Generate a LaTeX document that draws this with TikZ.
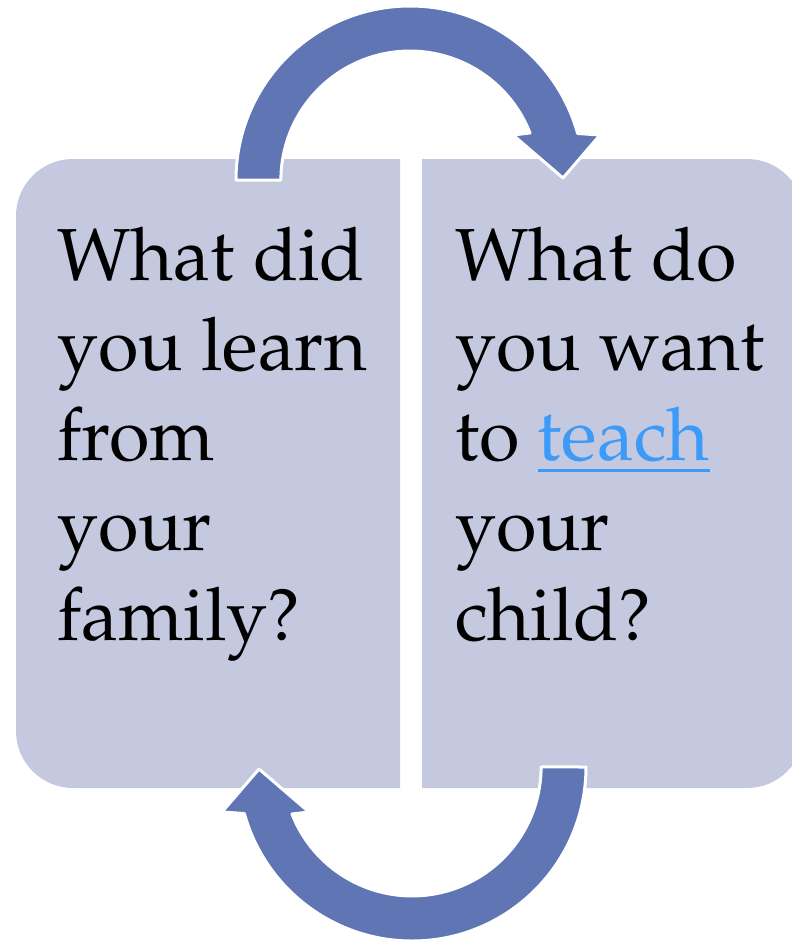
\documentclass[tikz,border=0pt]{standalone}
\usepackage[T1]{fontenc}
\usepackage{mathpazo}
\usepackage{xcolor}
\definecolor{boxfill}{HTML}{C5C9DF}
\definecolor{arrowblue}{HTML}{6076B4}
\definecolor{linkblue}{HTML}{3C9BF8}
\newcommand{\hyperword}[1]{{\color{linkblue}\setbox0\hbox{#1}\rlap{\rule[-11.5bp]{\wd0}{3bp}}\box0}}
\tikzset{
  panel/.style={fill=boxfill},
  turn/.style={fill=arrowblue, draw=white, line width=3bp, line join=round},
  question/.style={align=left, anchor=base west, inner sep=0pt, font=\fontsize{74}{90.3}\selectfont},
}

\begin{document}
\begin{tikzpicture}[x=1bp, y=-1bp]
	\useasboundingbox (0,0) rectangle (792,941);
	\clip (0,0) rectangle (792,941);
	% the two panels
	\fill[panel] (400,159) -- (73,159) arc[start angle=270, end angle=180, radius=57] -- (16,731) arc[start angle=180, end angle=90, radius=57] -- (400,788) -- cycle;
	\fill[panel] (422,159) -- (747,159) arc[start angle=270, end angle=360, radius=57] -- (804,731) arc[start angle=0, end angle=90, radius=57] -- (422,788) -- cycle;
	% top arrow, left to right
	\filldraw[turn] (236,180) arc[start angle=180, end angle=344.5, radius=174] -- (600,135) -- (563,178) -- (513,135) -- (530,133) arc[start angle=338.6, end angle=180, radius=129] -- cycle;
	% bottom arrow, right to left
	\begin{scope}[rotate around={180:(411,473.5)}]
		\filldraw[turn] (236,180) arc[start angle=180, end angle=344.5, radius=174] -- (600,135) -- (563,178) -- (513,135) -- (530,133) arc[start angle=338.6, end angle=180, radius=129] -- cycle;
	\end{scope}
	% the questions (base anchor sits on the last line)
	\node[question] (learn) at (57,640) {What did\\you learn\\from\\your\\family?};
	\node[question] (teach) at (455,640) {What do\\you want\\to \hyperword{teach}\\your\\child?};
\end{tikzpicture}
\end{document}
